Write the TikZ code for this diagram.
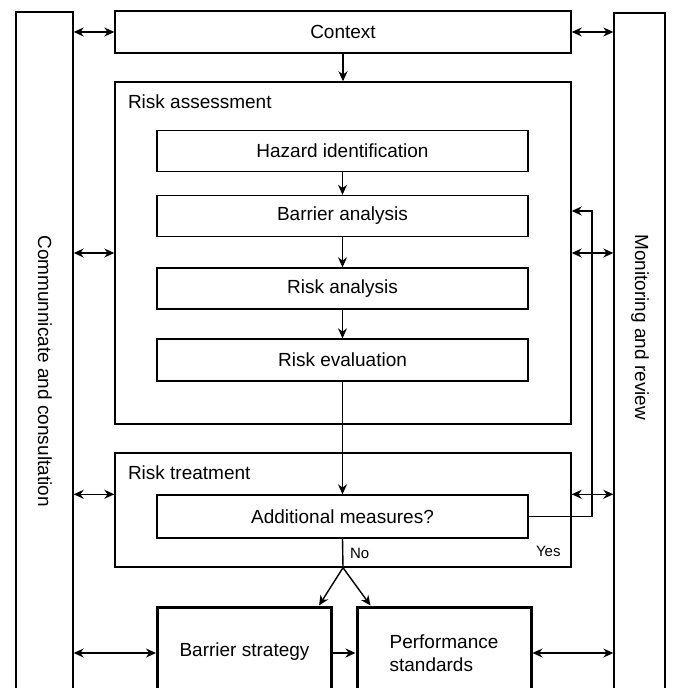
\documentclass[tikz,border=0pt]{standalone}
\usepackage{fontspec}
\setmainfont{Liberation Sans}
\usetikzlibrary{arrows.meta,calc}
\tikzset{
	stagebox/.style={draw, minimum width=185.5pt, minimum height=20.5pt, inner sep=0pt},
	bigbox/.style={draw, minimum width=228pt, inner sep=0pt},
	sidebar/.style={draw, minimum height=350pt, inner sep=0pt},
	outbox/.style={draw, line width=1.5pt, minimum width=87pt, minimum height=46pt, inner sep=0pt},
	boxtitle/.style={anchor=north west, inner sep=6.5pt},
	smalltext/.style={font=\fontsize{7.5}{9}\selectfont},
	onearrow/.style={-{Stealth[length=5pt,width=4.5pt]}},
	twoarrow/.style={{Stealth[length=5pt,width=4.5pt]}-{Stealth[length=5pt,width=4.5pt]}}
}
\begin{document}
\begin{tikzpicture}[x=0.5pt, y=-0.5pt, font=\fontsize{9.5}{11.5}\selectfont, line width=0.7pt]

	\useasboundingbox (0, 0) rectangle (678, 688);
	\clip (0, 0) rectangle (678, 688);

% side bars
\node[sidebar, minimum width=28.5pt] (comm) at (44.5, 362) {};
\node[sidebar, minimum width=25.5pt] (mon) at (639.5, 363) {};
\node[rotate=-90, anchor=west] at (45, 228) {Communnicate and consultation};
\node[rotate=-90, anchor=west] at (640, 227) {Monitoring and review};

% main column
\node[bigbox, minimum height=21pt] (context) at (343, 32) {Context};
\node[bigbox, minimum height=171pt] (assess) at (343, 253) {};
\node[boxtitle] at (assess.north west) {Risk assessment};
\node[stagebox] (hazard) at (342.5, 151) {Hazard identification};
\node[stagebox] (barrier) at (342.5, 216) {Barrier analysis};
\node[stagebox] (analysis) at (342.5, 288.5) {Risk analysis};
\node[stagebox, minimum height=21pt] (evaluation) at (342.5, 360) {Risk evaluation};

\node[bigbox, minimum height=57pt] (treat) at (343, 510) {};
\node[boxtitle] at (treat.north west) {Risk treatment};
\node[stagebox, minimum height=21.5pt] (measures) at (342.5, 516.5) {Additional measures?};

\node[outbox] (strategy) at (244.5, 653) {\raisebox{3pt}{Barrier strategy}};
\node[outbox, align=left] (standards) at (444, 653) {Performance\\standards};

% flow
\draw[onearrow] (context.south) -- (assess.north);
\foreach \a/\b in {hazard/barrier, barrier/analysis, analysis/evaluation}
\draw[onearrow] (\a.south) -- (\b.north);
\draw[onearrow] (evaluation.south) -- (measures.north);
\draw (measures.south) -- node[right, smalltext] {No} (treat.south);
\draw[onearrow] (treat.south) -- ($(strategy.north east)+(-14, 0)$);
\draw[onearrow] (treat.south) -- ($(standards.north west)+(15, 0)$);
\draw[onearrow] (strategy.east) -- (standards.west);

\coordinate (loop) at (592, 211);
\draw[onearrow] (measures.east) -| (loop) -- (loop -| assess.east);
\node[anchor=north west, smalltext] at (measures.south east) {Yes};

% links to the side bars
\foreach \b in {context, assess} {
	\draw[twoarrow] (comm.east |- \b.west) -- (\b.west);
	\draw[twoarrow] (\b.east) -- (mon.west |- \b.east);
}
\draw[twoarrow] (comm.east |- measures.north) -- (treat.west |- measures.north);
\draw[twoarrow] (treat.east |- measures.north) -- (mon.west |- measures.north);
\draw[twoarrow] (comm.east |- strategy.west) -- (strategy.west);
\draw[twoarrow] (standards.east) -- (mon.west |- standards.east);

\end{tikzpicture}
\end{document}
